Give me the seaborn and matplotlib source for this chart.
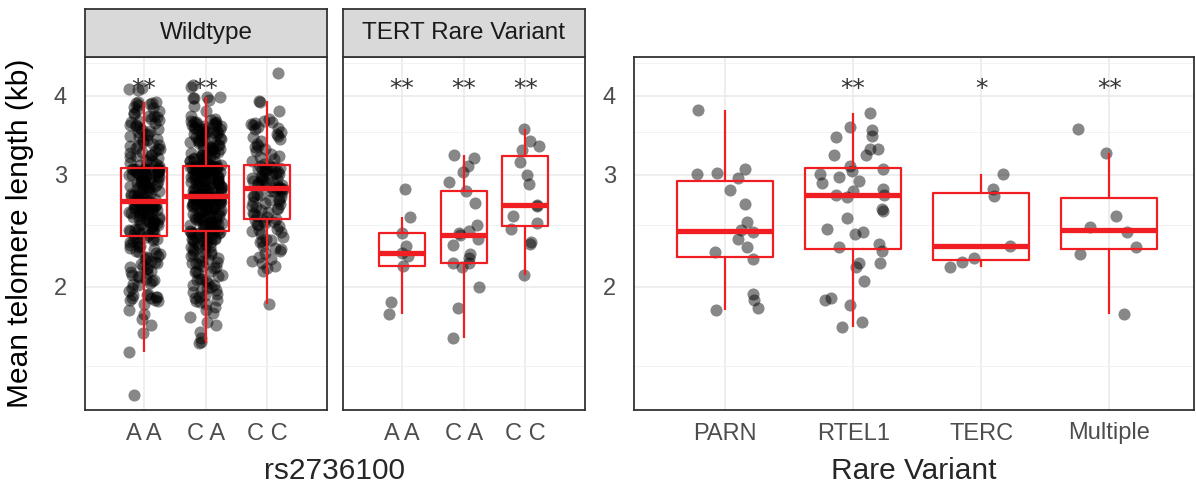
import numpy as np
import pandas as pd
import matplotlib
matplotlib.use("Agg")
import matplotlib.pyplot as plt
from matplotlib.ticker import FixedLocator, FixedFormatter, NullFormatter
import seaborn as sns

# ---- data: mean telomere length (kb) ----
genotypes = ["A A", "C A", "C C"]
rare_variants = ["PARN", "RTEL1", "TERC", "Multiple"]

wt_aa = [1.35, 1.58, 1.69, 1.74, 1.78, 1.81, 1.84, 1.88, 1.90, 1.91, 1.92, 1.92, 1.93, 1.93, 1.94, 1.95, 1.97, 1.99,
         2.01, 2.02, 2.04, 2.05, 2.07, 2.08, 2.09, 2.11, 2.12, 2.13, 2.15, 2.16, 2.17, 2.19, 2.20, 2.22,
         2.23, 2.24, 2.25, 2.27, 2.28, 2.29, 2.30, 2.32, 2.33, 2.34, 2.35, 2.36, 2.37, 2.38, 2.39, 2.40,
         2.41, 2.42, 2.42, 2.43, 2.44, 2.45, 2.46, 2.46, 2.47, 2.48, 2.49, 2.50, 2.50, 2.51, 2.52, 2.53,
         2.53, 2.54, 2.55, 2.56, 2.56, 2.57, 2.58, 2.59, 2.59, 2.60, 2.61, 2.61, 2.62, 2.63, 2.63, 2.64,
         2.65, 2.65, 2.66, 2.66, 2.67, 2.68, 2.68, 2.69, 2.69, 2.70, 2.70, 2.71, 2.71, 2.72, 2.72, 2.72,
         2.73, 2.73, 2.73, 2.74, 2.75, 2.76, 2.77, 2.78, 2.79, 2.80, 2.81, 2.82, 2.83, 2.84, 2.85, 2.86,
         2.87, 2.88, 2.89, 2.90, 2.90, 2.91, 2.92, 2.93, 2.94, 2.95, 2.95, 2.96, 2.97, 2.98, 2.98, 2.99,
         3.00, 3.00, 3.01, 3.01, 3.02, 3.02, 3.03, 3.03, 3.04, 3.04, 3.05, 3.05, 3.05, 3.06, 3.06, 3.06,
         3.07, 3.07, 3.07, 3.07, 3.08, 3.10, 3.11, 3.13, 3.15, 3.16, 3.18, 3.20, 3.21, 3.23, 3.25, 3.27,
         3.29, 3.31, 3.33, 3.34, 3.36, 3.38, 3.40, 3.42, 3.44, 3.46, 3.48, 3.50, 3.52, 3.54, 3.56, 3.58,
         3.60, 3.62, 3.64, 3.66, 3.68, 3.70, 3.72, 3.74, 3.76, 3.78, 3.80, 3.82, 3.84, 3.86, 3.88, 3.89,
         3.90, 3.91, 3.91, 4.08, 4.10, 4.11,
         1.91, 1.94, 2.03, 2.06, 2.10, 2.14, 2.18, 2.21, 2.26, 2.31, 2.36, 2.39,
         2.44, 2.47, 2.49, 2.52, 2.55, 2.58, 2.60, 2.62, 2.64, 2.67, 2.69, 2.70,
         2.76, 2.79, 2.80, 2.84, 2.86, 2.88, 2.92, 2.94, 2.96, 3.00, 3.03, 3.05,
         3.12, 3.19, 3.22, 3.26, 3.30, 3.35, 3.41, 3.47, 3.53, 3.59, 3.65, 3.71]

wt_ca = [1.63, 1.64, 1.66, 1.70, 1.74, 1.76, 1.79, 1.82, 1.84, 1.86, 1.88, 1.89, 1.91, 1.92, 1.93, 1.94,
         1.95, 1.96, 1.97, 1.99,
         2.00, 2.01, 2.01, 2.03, 2.04, 2.06, 2.06, 2.08, 2.09, 2.11, 2.12, 2.12, 2.14, 2.15, 2.17, 2.18,
         2.18, 2.20, 2.21, 2.22, 2.24, 2.25, 2.25, 2.27, 2.28, 2.29, 2.31, 2.31, 2.32, 2.34, 2.35, 2.35,
         2.36, 2.37, 2.38, 2.39, 2.39, 2.40, 2.41, 2.42, 2.42, 2.43, 2.43, 2.44, 2.44,
         2.45, 2.45, 2.46, 2.47, 2.47, 2.48, 2.49, 2.49, 2.50, 2.51, 2.51, 2.52, 2.53, 2.53, 2.54, 2.55,
         2.55, 2.56, 2.57, 2.57, 2.58, 2.58, 2.59, 2.60, 2.60, 2.61, 2.62, 2.62, 2.63, 2.63, 2.64, 2.65,
         2.65, 2.66, 2.66, 2.67, 2.68, 2.68, 2.69, 2.69, 2.70, 2.70, 2.71, 2.71, 2.72, 2.72, 2.73, 2.73,
         2.74, 2.74, 2.75, 2.75, 2.75, 2.76, 2.76, 2.76, 2.77, 2.77, 2.77, 2.78, 2.78, 2.78, 2.78, 2.78,
         2.78,
         2.78, 2.79, 2.79, 2.80, 2.81, 2.81, 2.82, 2.83, 2.83, 2.84, 2.85, 2.85, 2.86, 2.87, 2.87, 2.88,
         2.89, 2.89, 2.90, 2.91, 2.91, 2.92, 2.93, 2.93, 2.94, 2.95, 2.95, 2.96, 2.97, 2.97, 2.98, 2.98,
         2.99, 3.00, 3.00, 3.01, 3.01, 3.02, 3.02, 3.03, 3.03, 3.04, 3.04, 3.05, 3.05, 3.06, 3.06, 3.06,
         3.07, 3.07, 3.07, 3.08, 3.08, 3.08, 3.09, 3.09, 3.09, 3.09, 3.10, 3.10, 3.10, 3.10, 3.10, 3.10,
         3.10,
         3.11, 3.12, 3.13, 3.14, 3.15, 3.16, 3.17, 3.18, 3.19, 3.20, 3.21, 3.22, 3.23, 3.24, 3.25, 3.26,
         3.27, 3.28, 3.29, 3.30, 3.31, 3.32, 3.33, 3.34, 3.35, 3.37, 3.38, 3.39, 3.40, 3.41, 3.42, 3.43,
         3.44, 3.46, 3.47, 3.48, 3.49, 3.50, 3.51, 3.52, 3.53, 3.54, 3.55, 3.56, 3.57, 3.58, 3.59, 3.60,
         3.61, 3.62, 3.63, 3.64, 3.65, 3.66, 3.68, 3.72, 3.78, 3.85, 3.94, 3.96, 3.97, 3.98, 3.98, 4.12,
         4.16,
         1.90, 1.98, 2.05, 2.10, 2.16, 2.19, 2.23, 2.26, 2.30, 2.33, 2.36, 2.38, 2.40, 2.41, 2.43,
         2.46, 2.50, 2.52, 2.54, 2.56, 2.59, 2.61, 2.64, 2.66, 2.68, 2.70, 2.72, 2.74, 2.76, 2.77,
         2.80, 2.82, 2.84, 2.86, 2.88, 2.90, 2.92, 2.94, 2.96, 2.99, 3.01, 3.03, 3.05, 3.07, 3.09,
         3.14, 3.18, 3.22, 3.26, 3.30, 3.34, 3.38, 3.42, 3.45, 3.49, 3.52, 3.55, 3.58, 3.61, 3.64]

wt_cc = [1.88, 2.12, 2.14, 2.16, 2.18, 2.21, 2.23, 2.26, 2.28, 2.30, 2.32, 2.35, 2.37, 2.38, 2.40, 2.42,
         2.44, 2.46, 2.47, 2.49, 2.51, 2.52, 2.53, 2.54, 2.55,
         2.56, 2.58, 2.59, 2.61, 2.62, 2.64, 2.65, 2.67, 2.68, 2.70, 2.71, 2.73, 2.74, 2.75, 2.77, 2.78,
         2.79, 2.80, 2.82, 2.83, 2.84, 2.85, 2.85, 2.86, 2.86,
         2.87, 2.88, 2.89, 2.90, 2.91, 2.92, 2.93, 2.94, 2.95, 2.96, 2.97, 2.98, 2.99, 3.00, 3.01, 3.02,
         3.03, 3.04, 3.05, 3.06, 3.07, 3.08, 3.09, 3.10, 3.11,
         3.12, 3.15, 3.18, 3.21, 3.24, 3.27, 3.30, 3.33, 3.36, 3.39, 3.42, 3.45, 3.48, 3.51, 3.54, 3.57,
         3.59, 3.61, 3.63, 3.65, 3.68, 3.78, 3.91, 3.92, 4.34,
         2.20, 2.29, 2.36, 2.45, 2.50, 2.60, 2.66, 2.72, 2.78, 2.83,
         2.90, 2.96, 3.02, 3.06, 3.09, 3.20, 3.32, 3.44, 3.56, 3.62]

tert_aa = [1.81, 1.89, 2.16, 2.24, 2.26, 2.32, 2.43, 2.58, 2.85]
tert_ca = [1.66, 1.85, 2.00, 2.15, 2.18, 2.18, 2.22, 2.25, 2.33, 2.38, 2.41, 2.43, 2.45, 2.50, 2.71,
           2.83, 2.92, 3.03, 3.10, 3.19, 3.23]
tert_cc = [2.09, 2.34, 2.35, 2.47, 2.52, 2.59, 2.68, 2.69, 2.90, 3.00, 3.14, 3.28, 3.33, 3.39, 3.55]

parn = [1.84, 1.85, 1.91, 1.95, 2.21, 2.27, 2.31, 2.38, 2.44, 2.46, 2.53, 2.70, 2.84, 2.97, 3.01, 3.02,
        3.06, 3.80]
rtel1 = [1.73, 1.76, 1.87, 1.91, 1.92, 2.04, 2.15, 2.18, 2.18, 2.28, 2.31, 2.34, 2.42, 2.44, 2.47, 2.57,
         2.63, 2.65, 2.77, 2.79, 2.79, 2.83, 2.85, 2.91, 2.93, 2.98, 3.01, 3.04, 3.06, 3.10, 3.22, 3.22,
         3.30, 3.30, 3.44, 3.46, 3.53, 3.57, 3.76]
terc = [2.15, 2.19, 2.22, 2.32, 2.78, 2.85, 3.01]
multiple = [1.81, 2.25, 2.31, 2.44, 2.48, 2.59, 3.25, 3.55]

# significance marks per category
stars_wt = ["**", "**", ""]
stars_tert = ["**", "**", "**"]
stars_rare = ["", "**", "*", "**"]

y_major = [2, 3, 4]
y_minor = [1.5, 2.5, 3.5, 4.5]


def long_frame(groups, names, key):
    return pd.DataFrame({key: [n for n, g in zip(names, groups) for _ in g],
                         "tl": [v for g in groups for v in g]})


wt_df = long_frame([wt_aa, wt_ca, wt_cc], genotypes, "rs2736100")
tert_df = long_frame([tert_aa, tert_ca, tert_cc], genotypes, "rs2736100")
rare_df = long_frame([parn, rtel1, terc, multiple], rare_variants, "variant")

# ---- styling ----
sns.set_theme(style="white")
plt.rcParams["font.family"] = ["Liberation Sans", "DejaVu Sans"]
np.random.seed(11)

BOX_RED = "#F01E23"
FRAME = "#333333"
GRID = "#EBEBEB"
W, H = 1196, 487

fig = plt.figure(figsize=(W / 100, H / 100), dpi=100)


def px_axes(x0, y0, x1, y1):
    return fig.add_axes([x0 / W, 1 - y1 / H, (x1 - x0) / W, (y1 - y0) / H])


def draw_panel(ax, df, xcol, order, stars, xlim):
    sns.stripplot(data=df, x=xcol, y="tl", order=order, ax=ax, color="black",
                  alpha=0.47, size=8.7, jitter=0.26, linewidth=0, zorder=2)
    sns.boxplot(data=df, x=xcol, y="tl", order=order, ax=ax, fill=False,
                color=BOX_RED, linecolor=BOX_RED, width=0.75, linewidth=1.6,
                whis=1.5, showfliers=False, showcaps=False,
                medianprops={"linewidth": 3.8}, zorder=3)
    ax.set_yscale("log")
    ax.set_ylim(1.28, 4.60)
    ax.set_xlim(*xlim)
    ax.yaxis.set_major_locator(FixedLocator(y_major))
    ax.yaxis.set_major_formatter(FixedFormatter([str(v) for v in y_major]))
    ax.yaxis.set_minor_locator(FixedLocator(y_minor))
    ax.yaxis.set_minor_formatter(NullFormatter())
    ax.set_axisbelow(True)
    ax.grid(True, which="major", axis="both", color=GRID, lw=1.2)
    ax.grid(True, which="minor", axis="y", color="#F2F2F2", lw=0.7)
    for sp in ax.spines.values():
        sp.set_visible(True)
        sp.set_color(FRAME)
        sp.set_linewidth(1.3)
    ax.tick_params(axis="both", which="major", length=5, width=1.1, color=FRAME,
                   labelcolor="#4D4D4D", labelsize=17)
    ax.tick_params(axis="x", pad=4)
    ax.tick_params(axis="y", pad=8)
    ax.tick_params(axis="y", which="minor", length=0)
    ax.set_xlabel("")
    ax.set_ylabel("")
    for i, s in enumerate(stars):
        if s:
            ax.text(i, 4.0, s, ha="center", va="baseline", fontsize=18,
                    family="DejaVu Sans", color="#333333", zorder=4)


def strip(x0, x1, label):
    sax = px_axes(x0, 9, x1, 57)
    sax.set_facecolor("#D9D9D9")
    sax.set_xticks([])
    sax.set_yticks([])
    for sp in sax.spines.values():
        sp.set_visible(True)
        sp.set_color(FRAME)
        sp.set_linewidth(1.3)
    sax.text(0.5, 0.5, label, ha="center", va="center", fontsize=17.5,
             color="#1A1A1A", transform=sax.transAxes)


ax1 = px_axes(85, 57, 327, 410)
ax2 = px_axes(343, 57, 585, 410)
ax3 = px_axes(634, 57, 1194, 410)

draw_panel(ax1, wt_df, "rs2736100", genotypes, stars_wt, (-0.96, 2.97))
draw_panel(ax2, tert_df, "rs2736100", genotypes, stars_tert, (-0.96, 2.97))
draw_panel(ax3, rare_df, "variant", rare_variants, stars_rare, (-0.71, 3.66))

ax2.tick_params(axis="y", left=False, labelleft=False)

strip(85, 327, "Wildtype")
strip(343, 585, "TERT Rare Variant")

ax1.set_ylabel("Mean telomere length (kb)", fontsize=21.5, color="black")
ax1.yaxis.set_label_coords(-0.21, 0.5)

fig.text(335 / W, 1 - 471 / H, "rs2736100", ha="center", va="center", fontsize=21.5)
fig.text(914 / W, 1 - 471 / H, "Rare Variant", ha="center", va="center", fontsize=21.5)

fig.savefig("out.png", dpi=100, facecolor="white")
